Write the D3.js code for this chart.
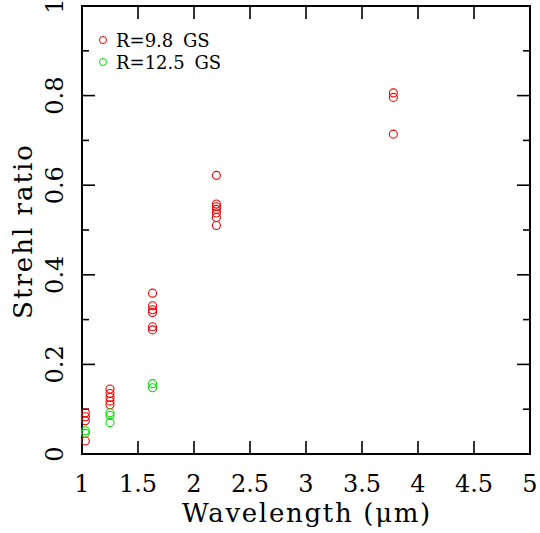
<!DOCTYPE html>
<html>
<head>
<meta charset="utf-8">
<script src="https://cdn.jsdelivr.net/npm/d3@7"></script>
<style>
  body { margin: 0; background: #fff; }
  svg text { font-family: "DejaVu Serif", serif; fill: #000; }
</style>
</head>
<body>
<div id="chart"></div>
<script>
// strehl ratio per band, two guide star radii
var waveRed = [1.03, 1.03, 1.03, 1.03,
               1.25, 1.25, 1.25, 1.25, 1.25,
               1.63, 1.63, 1.63, 1.63, 1.63, 1.63,
               2.2, 2.2, 2.2, 2.2, 2.2, 2.2, 2.2,
               3.78, 3.78, 3.78]
var strehlRed = [0.092, 0.083, 0.074, 0.029,
                 0.145, 0.135, 0.126, 0.118, 0.110,
                 0.359, 0.331, 0.322, 0.316, 0.284, 0.277,
                 0.622, 0.558, 0.552, 0.546, 0.538, 0.528, 0.510,
                 0.806, 0.796, 0.714]
var waveGreen = [1.03, 1.03, 1.25, 1.25, 1.25, 1.63, 1.63]
var strehlGreen = [0.052, 0.046, 0.092, 0.086, 0.070, 0.157, 0.148]

var legendLabels = ['R=9.8 GS', 'R=12.5 GS']
var colors = ['#f00000', '#00e000']
var xTicks = [1, 1.5, 2, 2.5, 3, 3.5, 4, 4.5, 5]
var yTicks = [0, 0.2, 0.4, 0.6, 0.8, 1]
var yMinor = [0.1, 0.3, 0.5, 0.7, 0.9]

var W = 540, H = 533
var margin = { left: 82, right: 10, top: 6, bottom: 79 }

var svg = d3.select('#chart').append('svg')
    .attr('width', W).attr('height', H)

var x = d3.scaleLinear().domain([1, 5]).range([margin.left, W - margin.right])
var y = d3.scaleLinear().domain([0, 1]).range([H - margin.bottom, margin.top])

var x0 = x.range()[0], x1 = x.range()[1], y0 = y.range()[0], y1 = y.range()[1]
var majorLen = 13, minorLen = 7

// ticks on all four sides, pointing inward
var g = svg.append('g').attr('stroke', '#000').attr('stroke-width', 1.6)
xTicks.forEach((t) => {
  g.append('line').attr('x1', x(t)).attr('x2', x(t)).attr('y1', y0).attr('y2', y0 - majorLen)
  g.append('line').attr('x1', x(t)).attr('x2', x(t)).attr('y1', y1).attr('y2', y1 + majorLen)
})
yTicks.forEach((t) => {
  g.append('line').attr('x1', x0).attr('x2', x0 + majorLen).attr('y1', y(t)).attr('y2', y(t))
  g.append('line').attr('x1', x1).attr('x2', x1 - majorLen).attr('y1', y(t)).attr('y2', y(t))
})
yMinor.forEach((t) => {
  g.append('line').attr('x1', x0).attr('x2', x0 + minorLen).attr('y1', y(t)).attr('y2', y(t))
  g.append('line').attr('x1', x1).attr('x2', x1 - minorLen).attr('y1', y(t)).attr('y2', y(t))
})

svg.append('rect')
  .attr('x', x0).attr('y', y1).attr('width', x1 - x0).attr('height', y0 - y1)
  .attr('fill', 'none').attr('stroke', '#000').attr('stroke-width', 2)

// tick labels
svg.selectAll('.xl').data(xTicks).enter().append('text')
  .attr('x', (d) => x(d)).attr('y', 492)
  .attr('text-anchor', 'middle').attr('font-size', 24)
  .text((d) => d)

// top label sits half outside the window, as in the original
svg.selectAll('.yl').data(yTicks).enter().append('text')
  .attr('transform', (d) => 'translate(63,' + y(d) + ') rotate(-90)')
  .attr('text-anchor', 'middle').attr('font-size', 24)
  .text((d) => d)

// axis titles
svg.append('text')
  .attr('x', (x0 + x1) / 2 + 1).attr('y', 522)
  .attr('text-anchor', 'middle').attr('font-size', 26)
  .attr('letter-spacing', 1.7)
  .text('Wavelength (μm)')

svg.append('text')
  .attr('transform', 'translate(32,' + ((y0 + y1) / 2 + 1) + ') rotate(-90)')
  .attr('text-anchor', 'middle').attr('font-size', 26)
  .attr('letter-spacing', 2)
  .text('Strehl ratio')

// points
var series = [[waveRed, strehlRed], [waveGreen, strehlGreen]]
series.forEach((s, i) => {
  svg.append('g').selectAll('circle')
    .data(s[0].map((w, k) => [w, s[1][k]]))
    .enter().append('circle')
    .attr('cx', (d) => x(d[0])).attr('cy', (d) => y(d[1]))
    .attr('r', 4).attr('fill', 'none')
    .attr('stroke', colors[i]).attr('stroke-width', 1.1)
})

// legend
legendLabels.forEach((lab, i) => {
  svg.append('circle').attr('cx', 103).attr('cy', 40 + i * 22).attr('r', 3.5)
    .attr('fill', 'none').attr('stroke', colors[i]).attr('stroke-width', 1)
  svg.append('text').attr('x', 116).attr('y', 47 + i * 22)
    .attr('font-size', 18).attr('word-spacing', 4)
    .text(lab)
})
</script>
</body>
</html>
